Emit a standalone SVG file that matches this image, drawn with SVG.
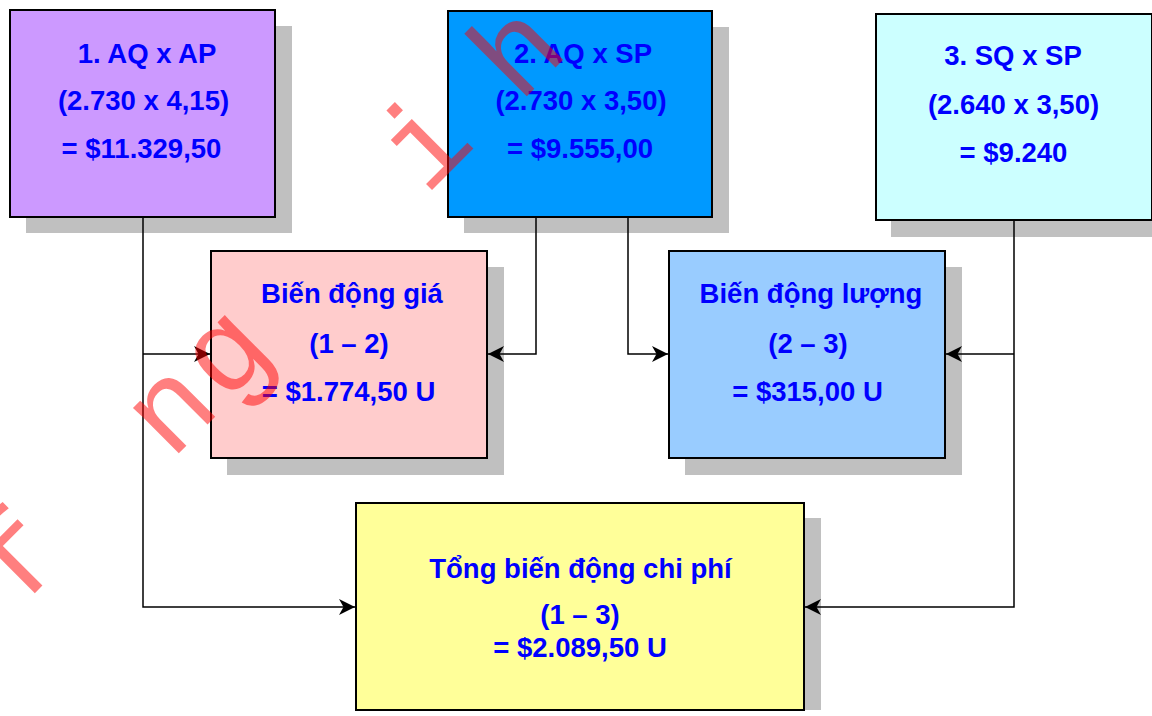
<svg xmlns="http://www.w3.org/2000/svg" width="1152" height="716" viewBox="0 0 1152 716">
  <defs>
    <marker id="arrow" markerUnits="userSpaceOnUse" markerWidth="18" markerHeight="18" refX="16" refY="8" orient="auto">
      <path d="M0,0 L16,8 L0,16 L4.5,8 Z" fill="#000"/>
    </marker>
    <style>
      .shadow { fill: #C0C0C0; }
      .box { stroke: #000; stroke-width: 2; }
      .lbl { font-family: "Liberation Sans", Arial, sans-serif; font-weight: bold; font-size: 27.5px; fill: #0000FF; text-anchor: middle; }
      .link { fill: none; stroke: #000; stroke-width: 1.5; }
      .wm { font-family: "Liberation Mono", "Courier New", monospace; font-size: 122px; fill: #FF0000; fill-opacity: 0.5; text-anchor: middle; }
    </style>
  </defs>

  <rect width="1152" height="716" fill="#FFFFFF"/>

  <!-- 1. AQ x AP -->
  <g id="node-aq-ap">
    <rect class="shadow" x="26" y="26" width="266" height="207"/>
    <rect class="box" x="10" y="10" width="265" height="207" fill="#CC99FF"/>
    <text class="lbl" x="147" y="63">1. AQ x AP</text>
    <text class="lbl" x="143.5" y="110">(2.730 x 4,15)</text>
    <text class="lbl" x="141.5" y="158">= $11.329,50</text>
  </g>

  <!-- 2. AQ x SP -->
  <g id="node-aq-sp">
    <rect class="shadow" x="464" y="27" width="265" height="206"/>
    <rect class="box" x="448" y="11" width="264" height="206" fill="#0099FF"/>
    <text class="lbl" x="583" y="63">2. AQ x SP</text>
    <text class="lbl" x="581" y="110">(2.730 x 3,50)</text>
    <text class="lbl" x="580" y="158">= $9.555,00</text>
  </g>

  <!-- 3. SQ x SP -->
  <g id="node-sq-sp">
    <rect class="shadow" x="891" y="30" width="277" height="207"/>
    <rect class="box" x="876" y="14" width="276" height="206" fill="#CCFFFF"/>
    <text class="lbl" x="1013" y="65">3. SQ x SP</text>
    <text class="lbl" x="1013.5" y="114">(2.640 x 3,50)</text>
    <text class="lbl" x="1013.5" y="162">= $9.240</text>
  </g>

  <!-- Price variance -->
  <g id="node-price-variance">
    <rect class="shadow" x="227" y="267" width="277" height="208"/>
    <rect class="box" x="211" y="251" width="276" height="207" fill="#FFCCCC"/>
    <text class="lbl" x="352" y="303">Biến động giá</text>
    <text class="lbl" x="349" y="353">(1 – 2)</text>
    <text class="lbl" x="348.5" y="401">= $1.774,50 U</text>
  </g>

  <!-- Quantity variance -->
  <g id="node-quantity-variance">
    <rect class="shadow" x="685" y="267" width="277" height="208"/>
    <rect class="box" x="669" y="251" width="276" height="207" fill="#99CCFF"/>
    <text class="lbl" x="811" y="303">Biến động lượng</text>
    <text class="lbl" x="808" y="353">(2 – 3)</text>
    <text class="lbl" x="807.5" y="401">= $315,00 U</text>
  </g>

  <!-- Total cost variance -->
  <g id="node-total-variance">
    <rect class="shadow" x="372" y="518" width="449" height="192"/>
    <rect class="box" x="356" y="503" width="448" height="207" fill="#FFFF99"/>
    <text class="lbl" x="580.5" y="578">Tổng biến động chi phí</text>
    <text class="lbl" x="580" y="624">(1 – 3)</text>
    <text class="lbl" x="580" y="657">= $2.089,50 U</text>
  </g>

  <!-- Connectors -->
  <g id="connectors">
    <path class="link" d="M143,218 V607 H355" marker-end="url(#arrow)"/>
    <path class="link" d="M143,354 H210" marker-end="url(#arrow)"/>
    <path class="link" d="M536,218 V354 H488" marker-end="url(#arrow)"/>
    <path class="link" d="M628,218 V354 H668" marker-end="url(#arrow)"/>
    <path class="link" d="M1014,221 V607 H805" marker-end="url(#arrow)"/>
    <path class="link" d="M1014,354 H946" marker-end="url(#arrow)"/>
  </g>

  <!-- Diagonal watermark letters -->
  <g id="watermark">
    <text class="wm" transform="translate(44,584) rotate(-45)">f</text>
    <text class="wm" transform="translate(197,435) rotate(-45)">n</text>
    <text class="wm" transform="translate(252,379) rotate(-45)">g</text>
    <text class="wm" transform="translate(452,170) rotate(-45)">i</text>
    <text class="wm" transform="translate(545,78) rotate(-45)">h</text>
  </g>
</svg>
